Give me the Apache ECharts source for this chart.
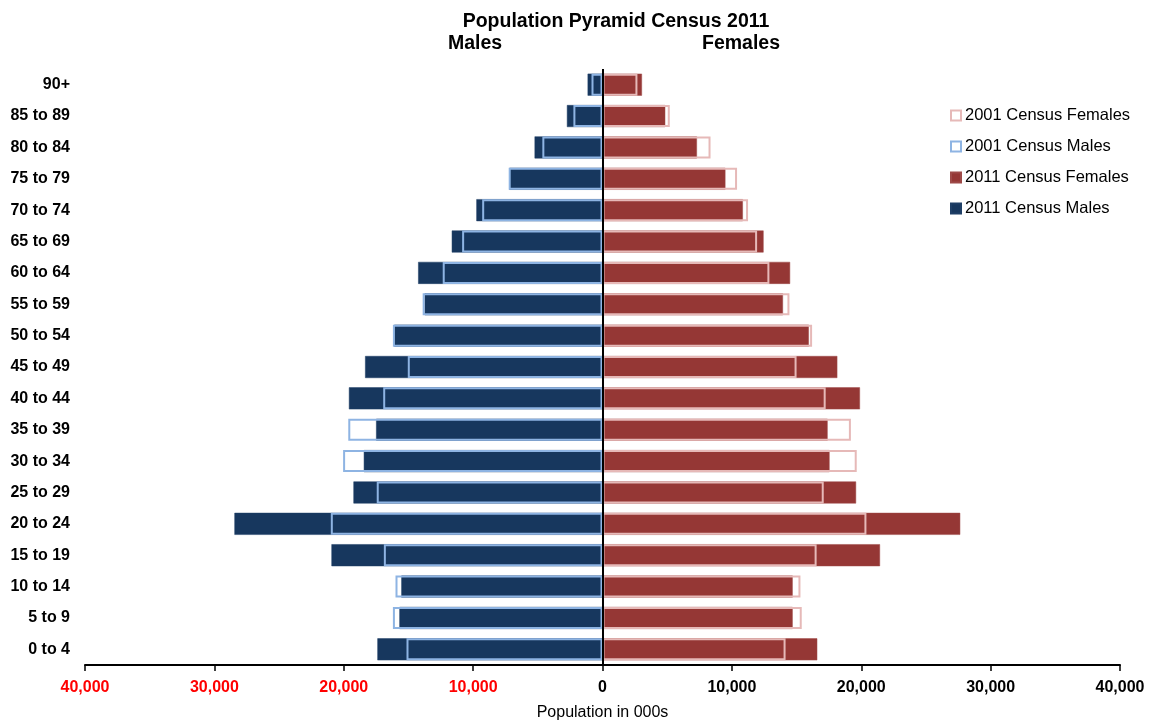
<!DOCTYPE html>
<html>
<head>
<meta charset="utf-8">
<script src="https://cdn.jsdelivr.net/npm/echarts@6/dist/echarts.min.js"></script>
<style>
  html, body { margin: 0; padding: 0; background: #fff; }
  #chart { width: 1153px; height: 720px; }
</style>
</head>
<body>
<div id="chart"></div>
<script>
// Age groups, bottom to top
const ageGroups = ['0 to 4', '5 to 9', '10 to 14', '15 to 19', '20 to 24', '25 to 29', '30 to 34',
  '35 to 39', '40 to 44', '45 to 49', '50 to 54', '55 to 59', '60 to 64', '65 to 69',
  '70 to 74', '75 to 79', '80 to 84', '85 to 89', '90+'];

// Population in thousands
const males2011 = [17400, 15700, 15550, 20950, 28450, 19250, 18450, 17500, 19600, 18350,
  16100, 13750, 14250, 11650, 9750, 7200, 5250, 2750, 1150];
const females2011 = [16600, 14700, 14700, 21450, 27650, 19600, 17550, 17400, 19900, 18150,
  15950, 13950, 14500, 12450, 10850, 9500, 7300, 4850, 3050];
const males2001 = [15150, 16200, 16000, 16900, 21000, 17450, 20050, 19650, 16950, 15050,
  16200, 13900, 12350, 10850, 9300, 7250, 4650, 2250, 850];
const females2001 = [14150, 15400, 15300, 16550, 20400, 17100, 19650, 19200, 17250, 15000,
  16200, 14450, 12900, 11950, 11250, 10400, 8350, 5200, 2700];

const xTicks = { min: -40000, max: 40000, interval: 10000 };

const fontFamily = '"Liberation Sans", Arial, sans-serif';
const neg = v => v.map(x => -x);
const fmt = v => Math.abs(v).toLocaleString('en-US');

const chart = echarts.init(document.getElementById('chart'), null, { renderer: 'canvas' });

const headStyle = { fontSize: 19.5, fontWeight: 'bold', color: '#000', fontFamily };

chart.setOption({
  animation: false,
  textStyle: { fontFamily },
  title: [
    { text: 'Population Pyramid Census 2011', left: 611, top: 7, textAlign: 'center', textStyle: headStyle },
    { text: 'Males', left: 470, top: 29, textAlign: 'center', textStyle: headStyle },
    { text: 'Females', left: 736, top: 29, textAlign: 'center', textStyle: headStyle }
  ],
  legend: {
    orient: 'vertical',
    left: 945,
    top: 102,
    itemGap: 14,
    itemWidth: 10,
    itemHeight: 10,
    icon: 'rect',
    data: ['2001 Census Females', '2001 Census Males', '2011 Census Females', '2011 Census Males'],
    textStyle: { fontSize: 16.5, color: '#000', fontFamily, padding: [0, 0, 0, -1] }
  },
  grid: { left: 85, right: 33, top: 69, bottom: 55, containLabel: false, outerBoundsMode: 'none' },
  xAxis: {
    type: 'value',
    min: xTicks.min,
    max: xTicks.max,
    interval: xTicks.interval,
    name: 'Population in 000s',
    nameLocation: 'middle',
    nameGap: 40,
    nameTextStyle: { fontSize: 16, color: '#000', fontFamily },
    axisLine: { show: true, lineStyle: { color: '#000', width: 2 } },
    axisTick: { show: true, length: 6, lineStyle: { color: '#000', width: 1.5 } },
    splitLine: { show: false },
    axisLabel: {
      margin: 15,
      fontSize: 16,
      fontWeight: 'bold',
      fontFamily,
      formatter: fmt,
      color: v => (v < 0 ? '#ff0000' : '#000')
    }
  },
  yAxis: {
    type: 'category',
    data: ageGroups,
    axisLine: { show: false },
    axisTick: { show: false },
    axisLabel: { fontSize: 16, fontWeight: 'bold', color: '#000', margin: 15, fontFamily }
  },
  series: [
    {
      name: '2011 Census Males', type: 'bar', data: neg(males2011),
      barWidth: 22, barGap: '-100%',
      itemStyle: { color: '#17375e', borderColor: '#1f3f66', borderWidth: 0.5 },
      z: 2
    },
    {
      name: '2011 Census Females', type: 'bar', data: females2011,
      barWidth: 22, barGap: '-100%',
      itemStyle: { color: '#953735', borderColor: '#9e4a48', borderWidth: 0.5 },
      z: 2
    },
    {
      name: '2001 Census Males', type: 'bar', data: neg(males2001),
      barWidth: 22, barGap: '-100%',
      itemStyle: { color: 'rgba(0,0,0,0)', borderColor: '#8eb4e3', borderWidth: 2 },
      z: 3
    },
    {
      name: '2001 Census Females', type: 'bar', data: females2001,
      barWidth: 22, barGap: '-100%',
      itemStyle: { color: 'rgba(0,0,0,0)', borderColor: '#e6b9b8', borderWidth: 2 },
      z: 3,
      markLine: {
        silent: true,
        symbol: 'none',
        label: { show: false },
        lineStyle: { color: '#000', width: 2, type: 'solid' },
        data: [{ xAxis: 0 }],
        z: 5
      }
    }
  ]
});
</script>
</body>
</html>
